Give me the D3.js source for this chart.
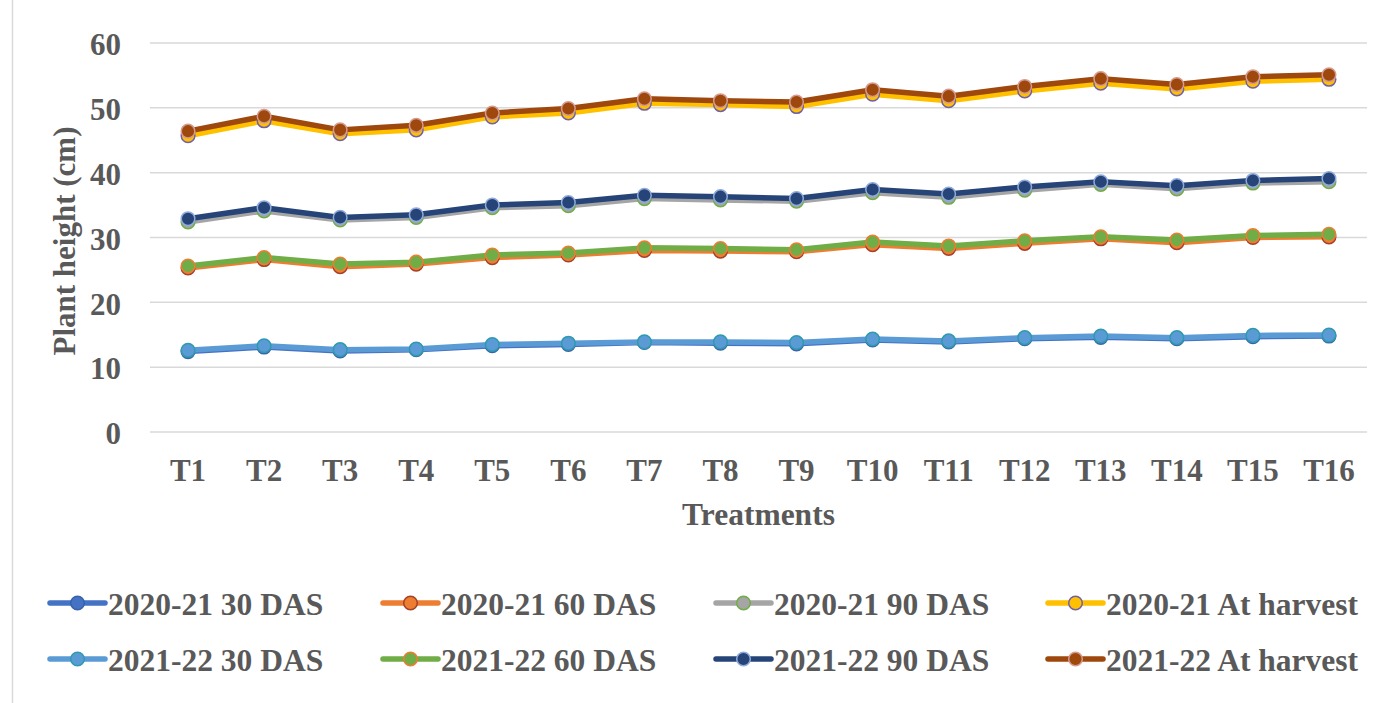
<!DOCTYPE html>
<html>
<head>
<meta charset="utf-8">
<script src="https://cdn.jsdelivr.net/npm/d3@7"></script>
<style>
  html, body { margin: 0; padding: 0; background: #fff; }
  text { font-family: "Liberation Serif", "Times New Roman", serif; font-weight: bold; fill: #595959; }
</style>
</head>
<body>
<svg id="chart" width="1378" height="703"></svg>
<script>
const categories = ["T1","T2","T3","T4","T5","T6","T7","T8","T9","T10","T11","T12","T13","T14","T15","T16"];
const yTicks = [0, 10, 20, 30, 40, 50, 60];

const s2021_30 = [12.4, 13.1, 12.5, 12.7, 13.3, 13.5, 13.8, 13.7, 13.6, 14.2, 13.9, 14.4, 14.6, 14.4, 14.7, 14.8];
const s2021_60 = [25.3, 26.6, 25.5, 25.9, 26.9, 27.3, 28.0, 27.9, 27.8, 28.9, 28.3, 29.1, 29.8, 29.2, 30.0, 30.1];
const s2021_90 = [32.4, 34.1, 32.7, 33.1, 34.6, 34.9, 36.0, 35.8, 35.6, 36.9, 36.2, 37.3, 38.2, 37.5, 38.4, 38.6];
const s2021_h  = [45.7, 48.0, 46.0, 46.6, 48.6, 49.2, 50.7, 50.5, 50.2, 52.1, 51.1, 52.6, 53.8, 52.9, 54.1, 54.4];
const s2122_30 = [12.6, 13.3, 12.7, 12.8, 13.5, 13.7, 13.9, 13.9, 13.8, 14.35, 14.05, 14.55, 14.8, 14.55, 14.9, 14.95];
const s2122_60 = [25.6, 26.9, 25.9, 26.2, 27.3, 27.6, 28.4, 28.3, 28.1, 29.3, 28.7, 29.5, 30.1, 29.6, 30.3, 30.5];
const s2122_90 = [32.9, 34.6, 33.1, 33.5, 35.0, 35.4, 36.5, 36.3, 36.0, 37.4, 36.7, 37.8, 38.6, 38.0, 38.8, 39.1];
const s2122_h  = [46.4, 48.7, 46.6, 47.3, 49.2, 49.9, 51.4, 51.1, 50.9, 52.8, 51.8, 53.3, 54.5, 53.6, 54.8, 55.1];

const seriesNames = ["2020-21 30 DAS","2020-21 60 DAS","2020-21 90 DAS","2020-21 At harvest",
                     "2021-22 30 DAS","2021-22 60 DAS","2021-22 90 DAS","2021-22 At harvest"];
const seriesValues = [s2021_30, s2021_60, s2021_90, s2021_h, s2122_30, s2122_60, s2122_90, s2122_h];
const lineColors   = ["#4472C4","#ED7D31","#A5A5A5","#FFC000","#5B9BD5","#70AD47","#264478","#9E480E"];
const markerStroke = ["#3A62AB","#A5402A","#70AD47","#7160A8","#2E9AB0","#ED7D31","#8FAADC","#D69A8E"];

const FONT = "Liberation Serif";
const svg = d3.select("#chart");
svg.append("rect").attr("x",0).attr("y",0).attr("width",1378).attr("height",703).attr("fill","#fff");
svg.append("line").attr("x1",12.5).attr("x2",12.5).attr("y1",0).attr("y2",703)
  .attr("stroke","#d9d9d9").attr("stroke-width",1.5);

const plot = {left:150, right:1367, top:43, bottom:432};
const x = d3.scaleBand().domain(categories).range([plot.left, plot.right]).padding(0);
const y = d3.scaleLinear().domain([0,60]).range([plot.bottom, plot.top]);
const cx = c => x(c) + x.bandwidth()/2;

// gridlines
svg.append("g").selectAll("line").data(yTicks).join("line")
  .attr("x1", plot.left).attr("x2", plot.right)
  .attr("y1", d => y(d)).attr("y2", d => y(d))
  .attr("stroke", "#d9d9d9").attr("stroke-width", 1.5);

// y axis labels
const yAxis = d3.axisLeft(y).tickValues(yTicks).tickSize(0).tickPadding(0);
const gy = svg.append("g").attr("transform", `translate(121,0)`).call(yAxis);
gy.attr("font-family", FONT).attr("font-size", 31);
gy.select(".domain").remove();
gy.selectAll("text").attr("fill","#595959").style("font-weight","bold").attr("dy","0.38em");

// x axis labels
const xAxis = d3.axisBottom(x).tickSize(0).tickPadding(0);
const gx = svg.append("g").attr("transform", `translate(0,${plot.bottom})`).call(xAxis);
gx.attr("font-family", FONT).attr("font-size", 31);
gx.select(".domain").remove();
gx.selectAll("text").attr("fill","#595959").style("font-weight","bold")
  .attr("y", 49).attr("dy", 0);

// axis titles
svg.append("text").attr("x", (plot.left+plot.right)/2).attr("y", 525)
  .attr("text-anchor","middle").attr("font-size",31.5).text("Treatments");
svg.append("text").attr("transform","translate(75,241) rotate(-90)")
  .attr("text-anchor","middle").attr("font-size",31).text("Plant height (cm)");

// series
const line = d3.line().x((d,i) => cx(categories[i])).y(d => y(d));
seriesValues.forEach((vals, si) => {
  const g = svg.append("g");
  g.append("path").datum(vals).attr("d", line).attr("fill","none")
    .attr("stroke", lineColors[si]).attr("stroke-width", 5.5)
    .attr("stroke-linejoin","round").attr("stroke-linecap","round");
  g.selectAll("circle").data(vals).join("circle")
    .attr("cx", (d,i) => cx(categories[i])).attr("cy", d => y(d)).attr("r", 6.8)
    .attr("fill", lineColors[si]).attr("stroke", markerStroke[si]).attr("stroke-width", 1.5);
});

// legend
const legX = [50, 383, 716, 1048];
const legY = [603, 659];
seriesNames.forEach((name, si) => {
  const col = si % 4, row = Math.floor(si / 4);
  const g = svg.append("g").attr("transform", `translate(${legX[col]},${legY[row]})`);
  g.append("line").attr("x1",0).attr("x2",55).attr("y1",0).attr("y2",0)
    .attr("stroke", lineColors[si]).attr("stroke-width",5.5).attr("stroke-linecap","round");
  g.append("circle").attr("cx",27.5).attr("cy",0).attr("r",6.8)
    .attr("fill", lineColors[si]).attr("stroke", markerStroke[si]).attr("stroke-width",1.5);
  g.append("text").attr("x",58).attr("y",11.5).attr("font-size",31.5).text(name);
});
</script>
</body>
</html>
